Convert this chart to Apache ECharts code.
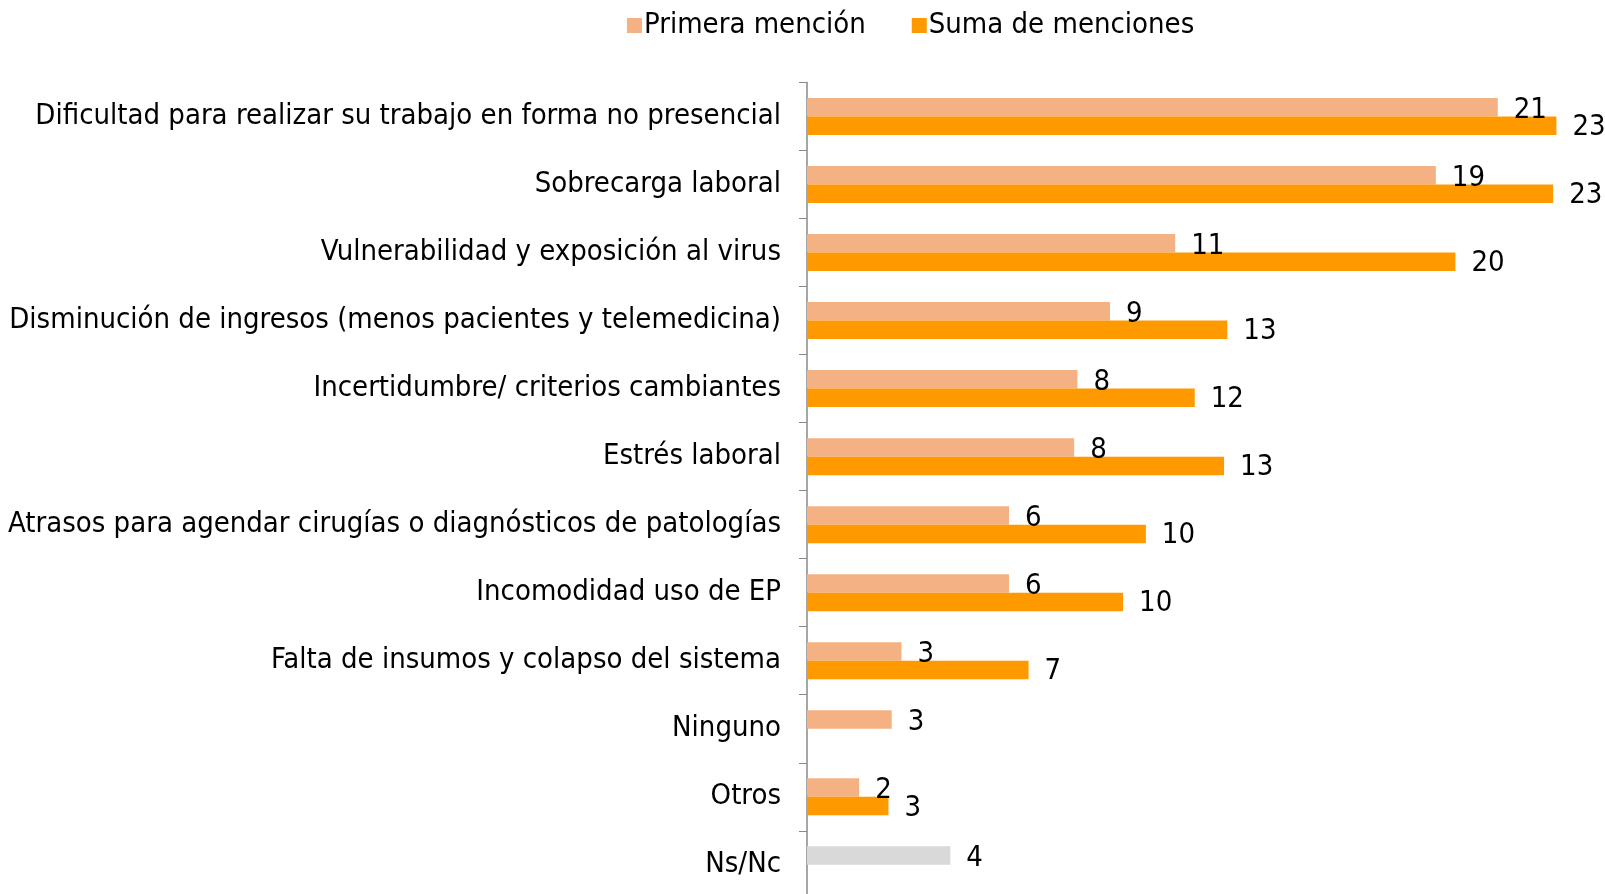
<!DOCTYPE html>
<html>
<head>
<meta charset="utf-8">
<script src="https://cdn.jsdelivr.net/npm/echarts@6/dist/echarts.min.js"></script>
<style>
  html, body { margin: 0; padding: 0; background: #fff; }
  #chart { width: 1605px; height: 894px; }
</style>
</head>
<body>
<div id="chart"></div>
<script>
// categories, top to bottom
const categories = [
  'Dificultad para realizar su trabajo en forma no presencial',
  'Sobrecarga laboral',
  'Vulnerabilidad y exposición al virus',
  'Disminución de ingresos (menos pacientes y telemedicina)',
  'Incertidumbre/ criterios cambiantes',
  'Estrés laboral',
  'Atrasos para agendar cirugías o diagnósticos de patologías',
  'Incomodidad uso de EP',
  'Falta de insumos y colapso del sistema',
  'Ninguno',
  'Otros',
  'Ns/Nc'
];

// values (labels show them rounded)
const primeraMencion = [21.2, 19.3, 11.3, 9.3, 8.3, 8.2, 6.2, 6.2, 2.9, 2.6, 1.6, 4.4];
const sumaMenciones = [23.0, 22.9, 19.9, 12.9, 11.9, 12.8, 10.4, 9.7, 6.8, null, 2.5, null];

const FONT = '"DejaVu Sans Condensed", "DejaVu Sans", sans-serif';
const SALMON = '#F4B183';
const ORANGE = '#FF9900';
const GREY = '#D9D9D9';

const chart = echarts.init(document.getElementById('chart'));

const labelStyle = {
  show: true,
  position: 'right',
  distance: 16,
  color: '#000',
  fontFamily: FONT,
  fontSize: 29,
  formatter: (p) => Math.round(p.value)
};

chart.setOption({
  animation: false,
  textStyle: { fontFamily: FONT },
  legend: {
    top: 6,
    left: 622,
    itemWidth: 15,
    itemHeight: 15,
    itemGap: 46,
    icon: 'rect',
    textStyle: { fontSize: 29, color: '#000', fontFamily: FONT, padding: [0, 0, 0, -3] },
    data: ['Primera mención', 'Suma de menciones']
  },
  grid: { left: 807, right: 16, top: 82.5, bottom: -4.8, containLabel: false, outerBoundsMode: 'none' },
  xAxis: {
    type: 'value',
    min: 0,
    max: 24,
    show: false
  },
  yAxis: {
    type: 'category',
    inverse: true,
    data: categories,
    axisLine: { show: true, lineStyle: { color: '#888', width: 1.5 } },
    axisTick: { show: true, inside: false, length: 8, lineStyle: { color: '#888' } },
    axisLabel: { margin: 26, color: '#000', fontSize: 29, fontFamily: FONT, padding: [14, 0, 0, 0] }
  },
  series: [
    {
      name: 'Primera mención',
      type: 'bar',
      barWidth: 18.5,
      barGap: '0%',
      itemStyle: { color: SALMON },
      label: Object.assign({}, labelStyle, { offset: [0, 3] }),
      data: primeraMencion.map((v, i) =>
        categories[i] === 'Ns/Nc' ? { value: v, itemStyle: { color: GREY } } : v)
    },
    {
      name: 'Suma de menciones',
      type: 'bar',
      barWidth: 18.5,
      barGap: '0%',
      itemStyle: { color: ORANGE },
      label: Object.assign({}, labelStyle, { offset: [0, 2] }),
      data: sumaMenciones
    }
  ]
});
</script>
</body>
</html>
